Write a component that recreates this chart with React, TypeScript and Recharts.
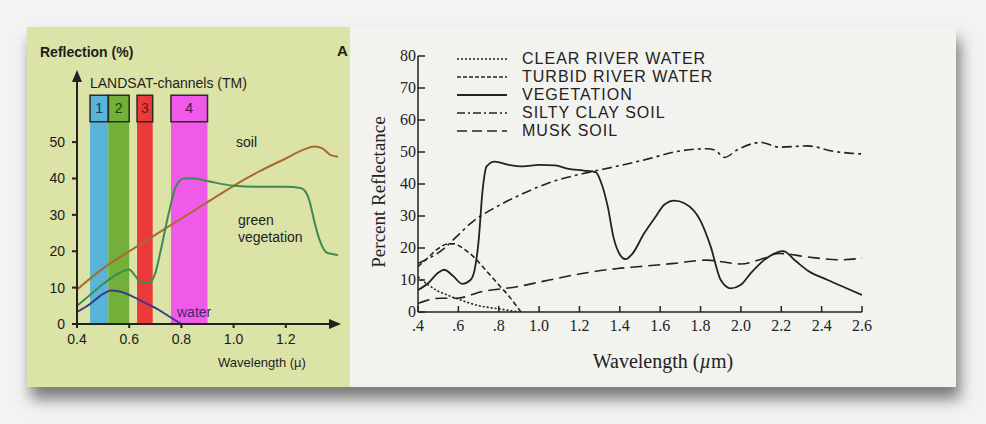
import { LineChart, Line, XAxis, YAxis, ReferenceArea, ReferenceDot } from "recharts";

// ---------- left panel (LANDSAT) ----------
const leftXTicks = [0.4, 0.6, 0.8, 1.0, 1.2];
const leftYTicks = [0, 10, 20, 30, 40, 50];

const soilW = [0.4, 0.5, 0.6, 0.7, 0.8, 0.9, 1.0, 1.1, 1.2, 1.27, 1.31, 1.34, 1.37, 1.4];
const soilR = [9.5, 15.3, 20, 24.5, 29, 33.5, 38, 42, 45.5, 48, 48.8, 48.3, 46.5, 46];

const vegW = [0.4, 0.45, 0.5, 0.55, 0.6, 0.62, 0.65, 0.68, 0.7, 0.72, 0.75, 0.78, 0.81, 0.85, 0.9, 1.0, 1.1, 1.2, 1.26, 1.29, 1.31, 1.33, 1.36, 1.4];
const vegR = [5, 8, 11, 13.5, 15, 13.5, 11.2, 11.5, 14, 20, 30, 38, 40, 40, 39.3, 38, 37.7, 37.7, 37.3, 34, 28, 23, 19.5, 19];

const waterW = [0.4, 0.45, 0.5, 0.53, 0.56, 0.6, 0.65, 0.7, 0.75, 0.8];
const waterR = [3.3, 5.5, 8.3, 9.2, 9, 8, 6.2, 4.4, 2.2, 0];

const bandNames = ["1", "2", "3", "4"];
const bandFrom = [0.45, 0.52, 0.63, 0.76];
const bandTo = [0.52, 0.6, 0.69, 0.9];
const bandColors = ["#58b4d8", "#72b03a", "#ec3a3a", "#f05ae9"];
const bandText = ["#1b3652", "#22400f", "#7a1212", "#4a1048"];
const bandTop = 62.9;
const bandBoxBottom = 55.6;

// ---------- right panel ----------
const rightXTicks = [0.4, 0.6, 0.8, 1.0, 1.2, 1.4, 1.6, 1.8, 2.0, 2.2, 2.4, 2.6];
const rightYTicks = [0, 10, 20, 30, 40, 50, 60, 70, 80];

const clearW = [0.4, 0.45, 0.5, 0.55, 0.6, 0.7, 0.8, 0.85, 0.9];
const clearR = [11, 8.5, 6.5, 5.2, 4, 2, 1, 0.5, 0];

const turbidW = [0.4, 0.45, 0.5, 0.55, 0.58, 0.62, 0.68, 0.72, 0.8, 0.85, 0.91];
const turbidR = [14.2, 17, 19.8, 21.3, 21.3, 20, 17, 14.2, 8.5, 5, 0];

const vegetW = [0.4, 0.45, 0.5, 0.53, 0.57, 0.62, 0.66, 0.68, 0.7, 0.72, 0.74, 0.78, 0.85, 0.92, 1.0, 1.08, 1.14, 1.22, 1.28, 1.31, 1.34, 1.37, 1.4, 1.43, 1.46, 1.52, 1.58, 1.62, 1.67, 1.72, 1.8, 1.85, 1.9, 1.95, 2.0, 2.05, 2.12, 2.21, 2.27, 2.33, 2.43, 2.52, 2.6];
const vegetR = [6.9, 9, 12.3, 13.2, 11.5, 8.8, 10, 13, 22, 38, 45.5, 47, 46, 45.5, 46, 45.8, 44.8, 44.2, 43.7, 40, 33, 23, 18, 16.5, 18, 24.5, 30, 33.5, 34.8, 34, 28.5, 20.5, 10, 7.4, 8.5, 12.2, 16.5, 19, 16, 13, 10, 7.5, 5.3];

const siltyW = [0.4, 0.53, 0.59, 0.67, 0.79, 0.92, 1.05, 1.22, 1.39, 1.55, 1.67, 1.83, 1.87, 1.92, 1.98, 2.1, 2.19, 2.33, 2.46, 2.6];
const siltyR = [15.2, 19.9, 23.5, 28.2, 32.9, 37, 40.4, 43.3, 45.6, 48, 50, 51, 50.6, 48.3, 50.6, 53, 51.5, 51.9, 50.2, 49.4];

const muskW = [0.4, 0.51, 0.59, 0.72, 0.89, 1.05, 1.22, 1.39, 1.5, 1.67, 1.83, 2.0, 2.1, 2.19, 2.33, 2.49, 2.6];
const muskR = [2.7, 4.3, 4.3, 6.4, 7.9, 10, 12.1, 13.6, 14.2, 15.2, 16.2, 15, 16.5, 18.3, 17.2, 16.3, 16.8];

const legendNames = ["CLEAR RIVER WATER", "TURBID RIVER WATER", "VEGETATION", "SILTY CLAY SOIL", "MUSK SOIL"];
const legendDash = ["2 2", "4 2", "", "8 3 2 3", "10 5"];

const zip = (w: number[], r: number[]) => w.map((x, i) => ({ w: x, r: r[i] }));

const sans = "'Liberation Sans', Arial, sans-serif";
const serif = "'Liberation Serif', 'Times New Roman', serif";
const ink = "#222";

function RightXTick(props: any) {
  const { x, y, payload } = props;
  const v: number = payload.value;
  const txt = v < 1 ? "." + Math.round(v * 10) : v.toFixed(1);
  return (
    <g>
      <line x1={x} y1={y} x2={x} y2={y - 6} stroke={ink} strokeWidth={1.5} />
      <text x={x} y={y + 19} textAnchor="middle" fontFamily={serif} fontSize={16} fill={ink}>
        {txt}
      </text>
    </g>
  );
}

function RightYTick(props: any) {
  const { x, y, payload } = props;
  return (
    <g>
      <line x1={x} y1={y} x2={x + 7} y2={y} stroke={ink} strokeWidth={1.5} />
      <text x={x - 2} y={y + 5} textAnchor="end" fontFamily={serif} fontSize={16} fill={ink}>
        {payload.value}
      </text>
    </g>
  );
}

const abs = (left: number, top: number, extra: any = {}) => ({
  position: "absolute" as const,
  left,
  top,
  whiteSpace: "nowrap" as const,
  ...extra,
});

export default function App() {
  return (
    <div style={{ position: "absolute", left: 0, top: 0, width: 986, height: 424, background: "#f3f3f3", overflow: "hidden" }}>
      {/* panels */}
      <div
        style={{
          position: "absolute",
          left: 27,
          top: 27,
          width: 929,
          height: 360,
          boxShadow: "4px 12px 14px rgba(0,0,0,0.5)",
        }}
      >
        <div style={{ position: "absolute", left: 0, top: 0, width: 323, height: 360, background: "#dbe3a6" }} />
        <div style={{ position: "absolute", left: 323, top: 2, width: 606, height: 358, background: "#f2f2ef" }} />
      </div>

      {/* left chart */}
      <div style={{ position: "absolute", left: 0, top: 0 }}>
        <LineChart width={986} height={424} margin={{ top: 73, right: 648, bottom: 99, left: 76 }}>
          <XAxis
            type="number"
            dataKey="w"
            domain={[0.4, 1.4]}
            ticks={leftXTicks}
            tickFormatter={(v: number) => v.toFixed(1)}
            allowDataOverflow
            height={1}
            stroke={ink}
            strokeWidth={2}
            tickSize={4}
            tickMargin={6}
            tick={{ fill: "#1a1a1a", fontSize: 14, fontFamily: sans }}
          />
          <YAxis
            type="number"
            domain={[0, 69]}
            ticks={leftYTicks}
            allowDataOverflow
            width={1}
            stroke={ink}
            strokeWidth={2}
            tickSize={5}
            tickMargin={7}
            tick={{ fill: "#1a1a1a", fontSize: 14, fontFamily: sans }}
          />
          {bandNames.map((n, i) => (
            <ReferenceArea
              key={"band" + n}
              x1={bandFrom[i]}
              x2={bandTo[i]}
              y1={0}
              y2={bandTop}
              fill={bandColors[i]}
              fillOpacity={1}
              stroke="none"
            />
          ))}
          {bandNames.map((n, i) => (
            <ReferenceArea
              key={"box" + n}
              x1={bandFrom[i]}
              x2={bandTo[i]}
              y1={bandBoxBottom}
              y2={bandTop}
              fill="none"
              stroke="#2a2a2a"
              strokeWidth={1.5}
              label={{ value: n, position: "center", fill: bandText[i], fontSize: 14, fontFamily: sans }}
            />
          ))}
          <Line data={zip(soilW, soilR)} dataKey="r" type="monotone" stroke="#a96a2c" strokeWidth={2} dot={false} isAnimationActive={false} />
          <Line data={zip(vegW, vegR)} dataKey="r" type="monotone" stroke="#3d8a52" strokeWidth={2} dot={false} isAnimationActive={false} />
          <Line data={zip(waterW, waterR)} dataKey="r" type="monotone" stroke="#3b3a8a" strokeWidth={2} dot={false} isAnimationActive={false} />
          <ReferenceDot
            x={1.4}
            y={0}
            ifOverflow="visible"
            shape={(p: any) => (
              <polygon points={`${p.cx + 3},${p.cy} ${p.cx - 9},${p.cy - 5} ${p.cx - 9},${p.cy + 5}`} fill={ink} />
            )}
          />
          <ReferenceDot
            x={0.4}
            y={69}
            ifOverflow="visible"
            shape={(p: any) => (
              <polygon points={`${p.cx},${p.cy - 3} ${p.cx - 5},${p.cy + 9} ${p.cx + 5},${p.cy + 9}`} fill={ink} />
            )}
          />
        </LineChart>
      </div>

      {/* left texts */}
      <div style={abs(40, 44, { fontFamily: sans, fontWeight: 700, fontSize: 14, color: "#1e1e1e" })}>Reflection (%)</div>
      <div style={abs(337, 42, { fontFamily: sans, fontWeight: 700, fontSize: 15, color: "#1e1e1e" })}>A</div>
      <div style={abs(90, 75, { fontFamily: sans, fontSize: 14, color: "#1e1e1e" })}>LANDSAT-channels (TM)</div>
      <div style={abs(236, 134, { fontFamily: sans, fontSize: 14, color: "#1e1e1e" })}>soil</div>
      <div style={abs(238, 212, { fontFamily: sans, fontSize: 14, color: "#1e1e1e", lineHeight: "17px" })}>
        green
        <br />
        vegetation
      </div>
      <div style={abs(177, 304, { fontFamily: sans, fontSize: 14, color: "#3b2a6a" })}>water</div>
      <div style={abs(218, 355, { fontFamily: sans, fontSize: 13, color: "#1e1e1e" })}>Wavelength (µ)</div>

      {/* right chart */}
      <div style={{ position: "absolute", left: 0, top: 0 }}>
        <LineChart width={986} height={424} margin={{ top: 56, right: 124, bottom: 111, left: 417 }}>
          <XAxis
            type="number"
            dataKey="w"
            domain={[0.4, 2.6]}
            ticks={rightXTicks}
            allowDataOverflow
            height={1}
            stroke={ink}
            strokeWidth={1.5}
            tickLine={false}
            tickSize={0}
            tickMargin={0}
            tick={<RightXTick />}
          />
          <YAxis
            type="number"
            domain={[0, 80]}
            ticks={rightYTicks}
            allowDataOverflow
            width={1}
            stroke={ink}
            strokeWidth={1.5}
            tickLine={false}
            tickSize={0}
            tickMargin={0}
            tick={<RightYTick />}
          />
          <Line data={zip(clearW, clearR)} dataKey="r" type="monotone" stroke={ink} strokeWidth={1.6} strokeDasharray="2 2" dot={false} isAnimationActive={false} />
          <Line data={zip(turbidW, turbidR)} dataKey="r" type="monotone" stroke={ink} strokeWidth={1.6} strokeDasharray="5 3" dot={false} isAnimationActive={false} />
          <Line data={zip(vegetW, vegetR)} dataKey="r" type="monotone" stroke={ink} strokeWidth={1.8} dot={false} isAnimationActive={false} />
          <Line data={zip(siltyW, siltyR)} dataKey="r" type="monotone" stroke={ink} strokeWidth={1.6} strokeDasharray="10 4 3 4" dot={false} isAnimationActive={false} />
          <Line data={zip(muskW, muskR)} dataKey="r" type="monotone" stroke={ink} strokeWidth={1.6} strokeDasharray="12 6" dot={false} isAnimationActive={false} />
        </LineChart>
      </div>

      {/* right legend */}
      <div style={abs(457, 50, { fontFamily: sans, fontSize: 16, color: ink })}>
        {legendNames.map((n, i) => (
          <div key={n} style={{ display: "flex", alignItems: "center", height: 18 }}>
            <svg width={52} height={10} style={{ marginRight: 13 }}>
              <line x1={0} y1={5} x2={50} y2={5} stroke={ink} strokeWidth={i === 2 ? 2 : 1.6} strokeDasharray={legendDash[i] || undefined} />
            </svg>
            <span style={{ letterSpacing: 1 }}>{n}</span>
          </div>
        ))}
      </div>

      {/* right axis titles */}
      <div style={abs(379, 192, { fontFamily: serif, fontSize: 19, color: ink, transform: "translate(-50%, -50%) rotate(-90deg)" })}>
        Percent Reflectance
      </div>
      <div style={abs(663, 361, { fontFamily: serif, fontSize: 20, color: ink, transform: "translate(-50%, -50%)" })}>
        Wavelength (<i>µ</i>m)
      </div>
    </div>
  );
}
